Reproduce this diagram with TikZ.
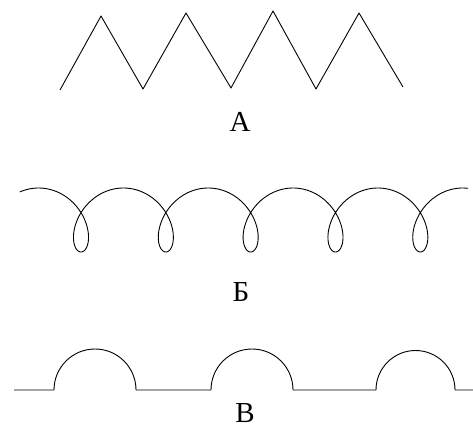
\documentclass[tikz,border=0pt]{standalone}
\usepackage{fontspec}
\setmainfont{Liberation Serif}
\tikzset{
  curve/.style={line width=0.9pt,draw=black,line join=round},
  lbl/.style={inner sep=0pt,font=\fontsize{29}{29}\selectfont}
}
\begin{document}
\begin{tikzpicture}[x=1pt,y=-1pt]
  \useasboundingbox (0,0) rectangle (473,428);
  % zigzag
  \draw[curve] (60,90) -- (101,16) -- (143,89) -- (186,13) -- (231,88)
    -- (273,11) -- (316,89) -- (359,13) -- (403,87);
  \node[lbl] (labA) at (240,122) {А};

  % loops
  \draw[curve] plot[domain=-3.64:28.42,samples=500,smooth,variable=\t]
    ({81+13.5*\t-25*sin(\t r)},{220+32*cos(\t r)});
  \node[lbl] (labB) at (241,292) {Б};

  % arcs on a line
  \draw[curve] (14,390) -- (54,390) arc[start angle=180,end angle=360,radius=41]
    -- (211,390) arc[start angle=180,end angle=360,radius=41]
    -- (376,390) arc[start angle=180,end angle=360,radius=39.5]
    -- (473,390);
  \node[lbl] (labV) at (245,413) {В};
\end{tikzpicture}
\end{document}
